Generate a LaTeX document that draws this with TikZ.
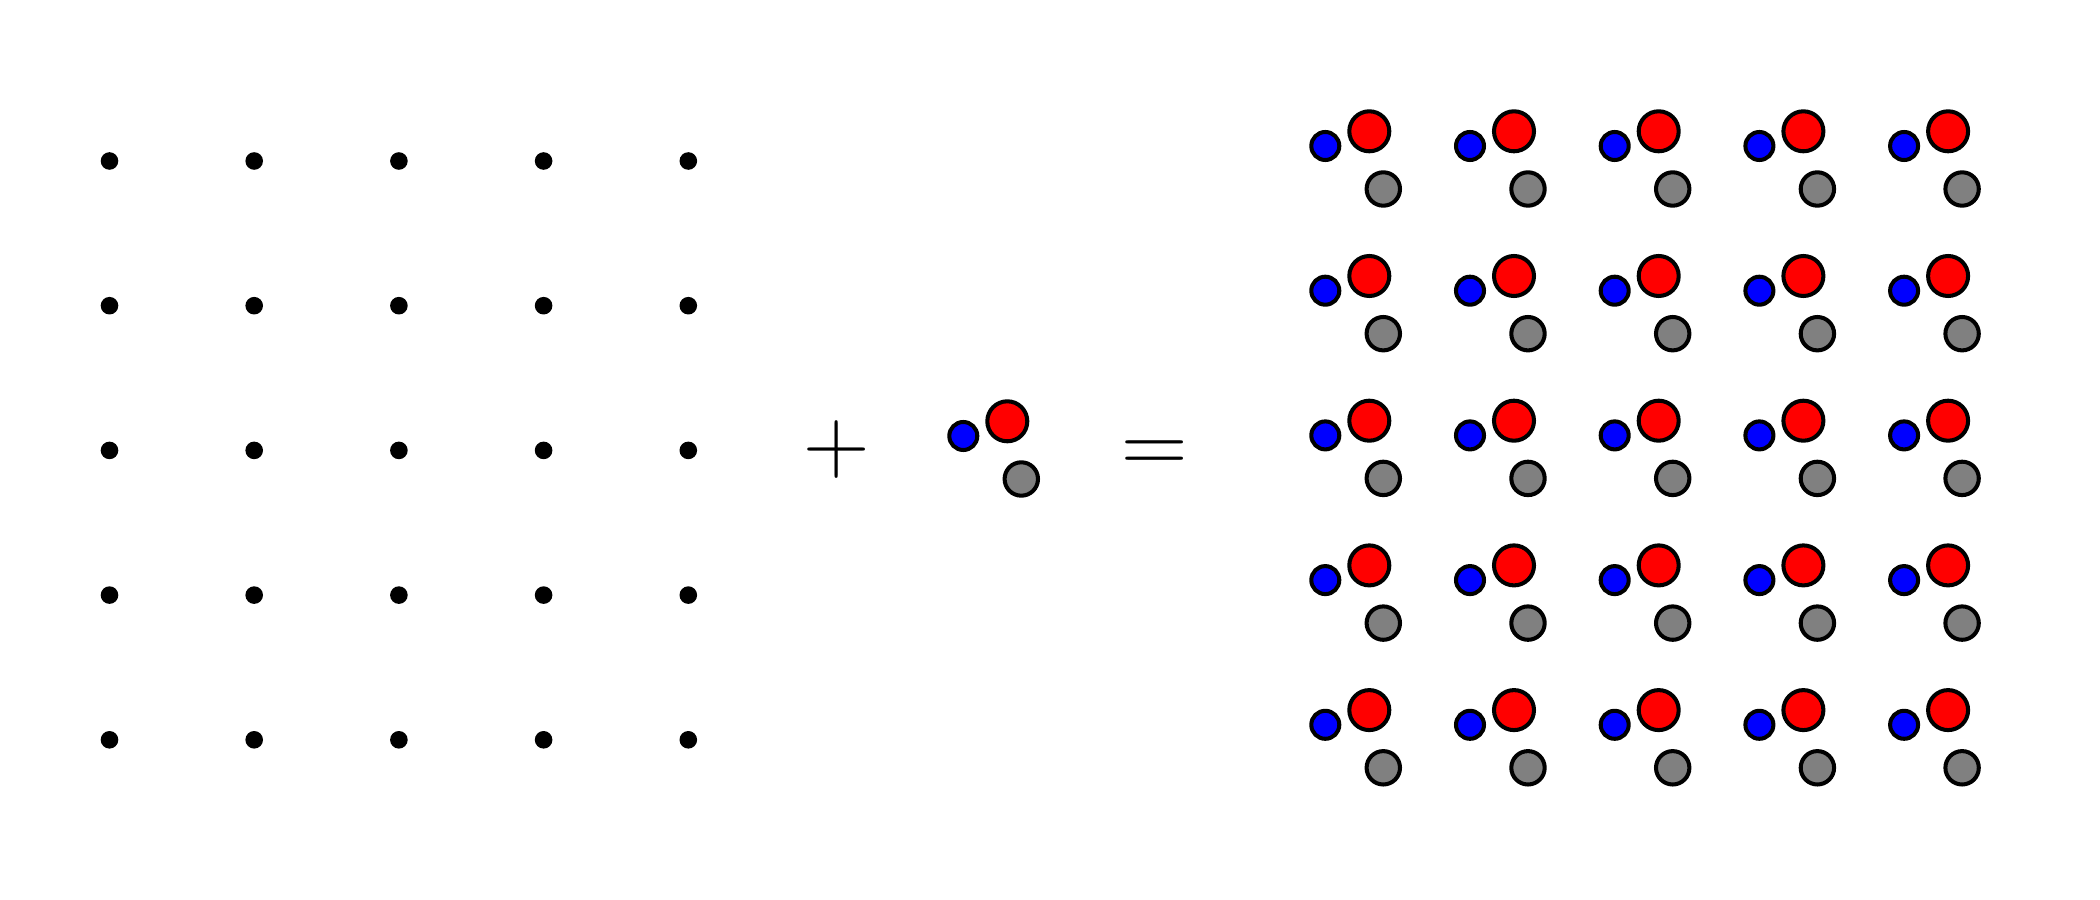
\documentclass[tikz,border=0pt]{standalone}
\usepackage{fix-cm}
\usepackage{tikz}
\definecolor{AtomBlue}{RGB}{0,0,255}
\definecolor{AtomRed}{RGB}{255,0,0}
\definecolor{AtomGray}{RGB}{128,128,128}
\tikzset{
  site/.style={circle, fill=black, inner sep=0pt, minimum size=0.176cm},
  atom/.style={circle, draw=black, line width=1.15pt, inner sep=0pt},
  blueatom/.style={atom, fill=AtomBlue, minimum size=0.28cm},
  redatom/.style={atom, fill=AtomRed, minimum size=0.40cm},
  grayatom/.style={atom, fill=AtomGray, minimum size=0.334cm},
  sign/.style={font=\fontsize{26.2}{30}\selectfont, inner sep=0pt, anchor=base}
}

\begin{document}
\begin{tikzpicture}
  \useasboundingbox (0,0) rectangle (21,9);
  % lattice
  \foreach \i in {0,...,4}
    \foreach \j in {0,...,4} {
      \node[site] (s\i\j) at (1.095+1.447*\i, 7.39-1.447*\j) {};
    }
  \node[sign] (plus) at (8.367,4.279) {$+$};
  % basis
  \node[blueatom] (bb) at (9.633,4.64) {};
  \node[redatom] (br) at ([shift={(0.44,0.147)}]bb) {};
  \node[grayatom] (bg) at ([shift={(0.58,-0.43)}]bb) {};
  \node[sign] (equal) at (11.547,4.266) {$=$};
  % crystal
  \foreach \i in {0,...,4}
    \foreach \j in {0,...,4} {
      \node[blueatom] (b\i\j) at (13.253+1.447*\i, 7.54-1.447*\j) {};
      \node[redatom] (r\i\j) at ([shift={(0.44,0.147)}]b\i\j) {};
      \node[grayatom] (g\i\j) at ([shift={(0.58,-0.43)}]b\i\j) {};
    }
\end{tikzpicture}
\end{document}
